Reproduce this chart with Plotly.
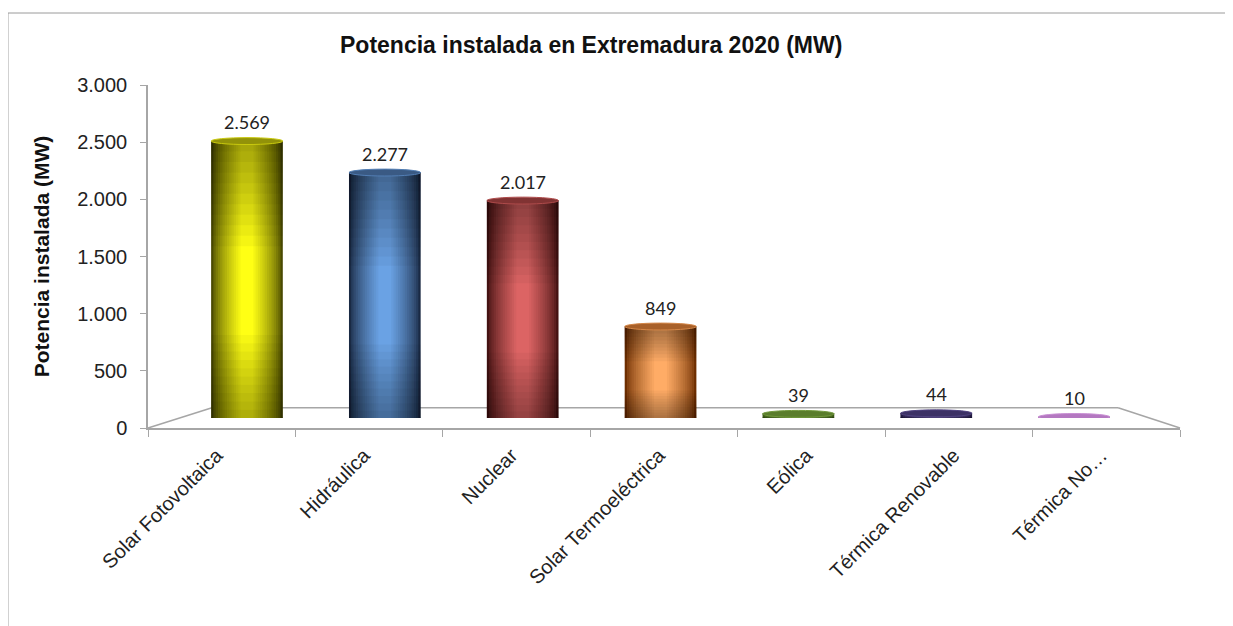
import plotly.graph_objects as go

# datos
categorias = ["Solar Fotovoltaica", "Hidráulica", "Nuclear", "Solar Termoeléctrica",
              "Eólica", "Térmica Renovable", "Térmica No…"]
potencia_mw = [2569, 2277, 2017, 849, 39, 44, 10]
ticks_y = [0, 500, 1000, 1500, 2000, 2500, 3000]

# colores de cada cilindro (borde oscuro -> centro claro)
color_borde = ["#4a4a02", "#1a2a44", "#441212", "#6e2e00", "#3d5a18", "#221a42", "#9a5aa8"]
color_centro = ["#ffff14", "#6aa2e4", "#dc6464", "#ffac66", "#86b24a", "#64549a", "#dba6e6"]

ancho = 0.52      # ancho de barra (unidades de categoria)
tapa = 32         # media altura de la elipse superior (unidades MW)
n_capas = 14
capas = [(1 - 0.82 * k / (n_capas - 1), (k / (n_capas - 1)) ** 0.7) for k in range(n_capas)]
n_sombra = 10     # pasos del oscurecimiento vertical


def hex_rgb(h):
    h = h.lstrip("#")
    return [int(h[i:i + 2], 16) for i in (0, 2, 4)]


def mezcla(a, b, t):
    ra, rb = hex_rgb(a), hex_rgb(b)
    c = [round(x + (y - x) * t) for x, y in zip(ra, rb)]
    return "rgb(%d,%d,%d)" % tuple(c)


def formato(v):
    return f"{v:,}".replace(",", ".")


fig = go.Figure()

# eje frontal con las etiquetas de categoria
fig.add_trace(go.Scatter(x=categorias, y=potencia_mw, mode="markers",
                         marker=dict(opacity=0), hoverinfo="skip", showlegend=False))

# cilindros: varias barras superpuestas para simular el sombreado horizontal
for fw, t in capas:
    fig.add_trace(go.Bar(
        x=categorias, y=potencia_mw,
        width=[ancho * fw] * len(categorias),
        marker=dict(color=[mezcla(e, c, t) for e, c in zip(color_borde, color_centro)],
                    line=dict(width=0)),
        xaxis="x2", yaxis="y2", showlegend=False, hoverinfo="skip"))

# sombreado vertical (parte alta y baja mas oscuras)
for k in range(1, n_sombra + 1):
    f_top = 0.38 * k / n_sombra
    f_bot = 0.30 * k / n_sombra
    fig.add_trace(go.Bar(
        x=categorias, y=[v * f_top for v in potencia_mw],
        base=[v * (1 - f_top) for v in potencia_mw],
        width=[ancho] * len(categorias),
        marker=dict(color="rgba(0,0,0,0.04)", line=dict(width=0)),
        xaxis="x2", yaxis="y2", showlegend=False, hoverinfo="skip"))
    fig.add_trace(go.Bar(
        x=categorias, y=[v * f_bot for v in potencia_mw],
        width=[ancho] * len(categorias),
        marker=dict(color="rgba(0,0,0,0.035)", line=dict(width=0)),
        xaxis="x2", yaxis="y2", showlegend=False, hoverinfo="skip"))

shapes = []
annotations = []
for i, v in enumerate(potencia_mw):
    # base del cilindro
    shapes.append(dict(type="circle", xref="x2", yref="y2", layer="below",
                       x0=i - ancho / 2, x1=i + ancho / 2, y0=-tapa, y1=tapa,
                       fillcolor=mezcla(color_borde[i], color_centro[i], 0.3),
                       line=dict(width=0)))
    # tapa superior
    shapes.append(dict(type="circle", xref="x2", yref="y2", layer="above",
                       x0=i - ancho / 2, x1=i + ancho / 2, y0=v - tapa, y1=v + tapa,
                       fillcolor=mezcla(color_borde[i], color_centro[i], 0.4),
                       line=dict(width=1, color=mezcla(color_borde[i], color_centro[i], 0.7))))
    annotations.append(dict(x=i, y=v, xref="x2", yref="y2", text=formato(v),
                            showarrow=False, yshift=19,
                            font=dict(family="Lato, Arial", size=18, color="#222222")))

# suelo en perspectiva
gris = "#a6a6a6"
for x0, y0, x1, y1 in [(0, 0, 0.062, 0.059), (0.062, 0.059, 0.94, 0.059), (0.94, 0.059, 1, 0)]:
    shapes.append(dict(type="line", xref="paper", yref="paper", x0=x0, y0=y0, x1=x1, y1=y1,
                       line=dict(color=gris, width=1.5), layer="below"))

# marco del grafico
shapes.append(dict(type="rect", xref="paper", yref="paper",
                   x0=-0.1357, y0=-1, x1=1.3, y1=1.2099,
                   line=dict(color="#9a9a9a", width=1)))

fig.update_layout(
    width=1233, height=626,
    margin=dict(l=140, r=61, t=77, b=206),
    paper_bgcolor="white", plot_bgcolor="rgba(0,0,0,0)",
    barmode="overlay", separators=",.",
    title=dict(text="<b>Potencia instalada en Extremadura 2020 (MW)</b>",
               x=0.473, xref="container", xanchor="center",
               y=0.941, yref="container", yanchor="middle",
               font=dict(family="Arial", size=23, color="#111111")),
    xaxis=dict(domain=[0, 1], anchor="y", type="category", range=[-0.5, 6.5],
               tickson="boundaries", ticks="outside", ticklen=7, tickcolor=gris,
               showline=True, linecolor=gris, linewidth=1.5, showgrid=False,
               tickangle=-45, ticklabelshift=-5, ticklabelstandoff=6,
               tickfont=dict(family="Arial", size=20, color="#222222")),
    yaxis=dict(domain=[0, 1], anchor="x", range=[0, 3000], tickvals=ticks_y,
               tickformat=",d", ticks="outside", ticklen=6, tickcolor=gris,
               ticklabelstandoff=9,
               showline=True, linecolor=gris, linewidth=1.5, showgrid=False, zeroline=False,
               tickfont=dict(family="Arial", size=20, color="#222222"),
               title=dict(text="<b>Potencia instalada (MW)</b>", standoff=22,
                          font=dict(family="Arial", size=21, color="#111111"))),
    xaxis2=dict(domain=[0.0291, 0.9642], anchor="y2", type="category", range=[-0.5, 6.5],
                visible=False),
    yaxis2=dict(domain=[0.029, 0.972], anchor="x2", range=[0, 3000], visible=False),
    shapes=shapes,
    annotations=annotations,
)

fig.write_html("out.html")
